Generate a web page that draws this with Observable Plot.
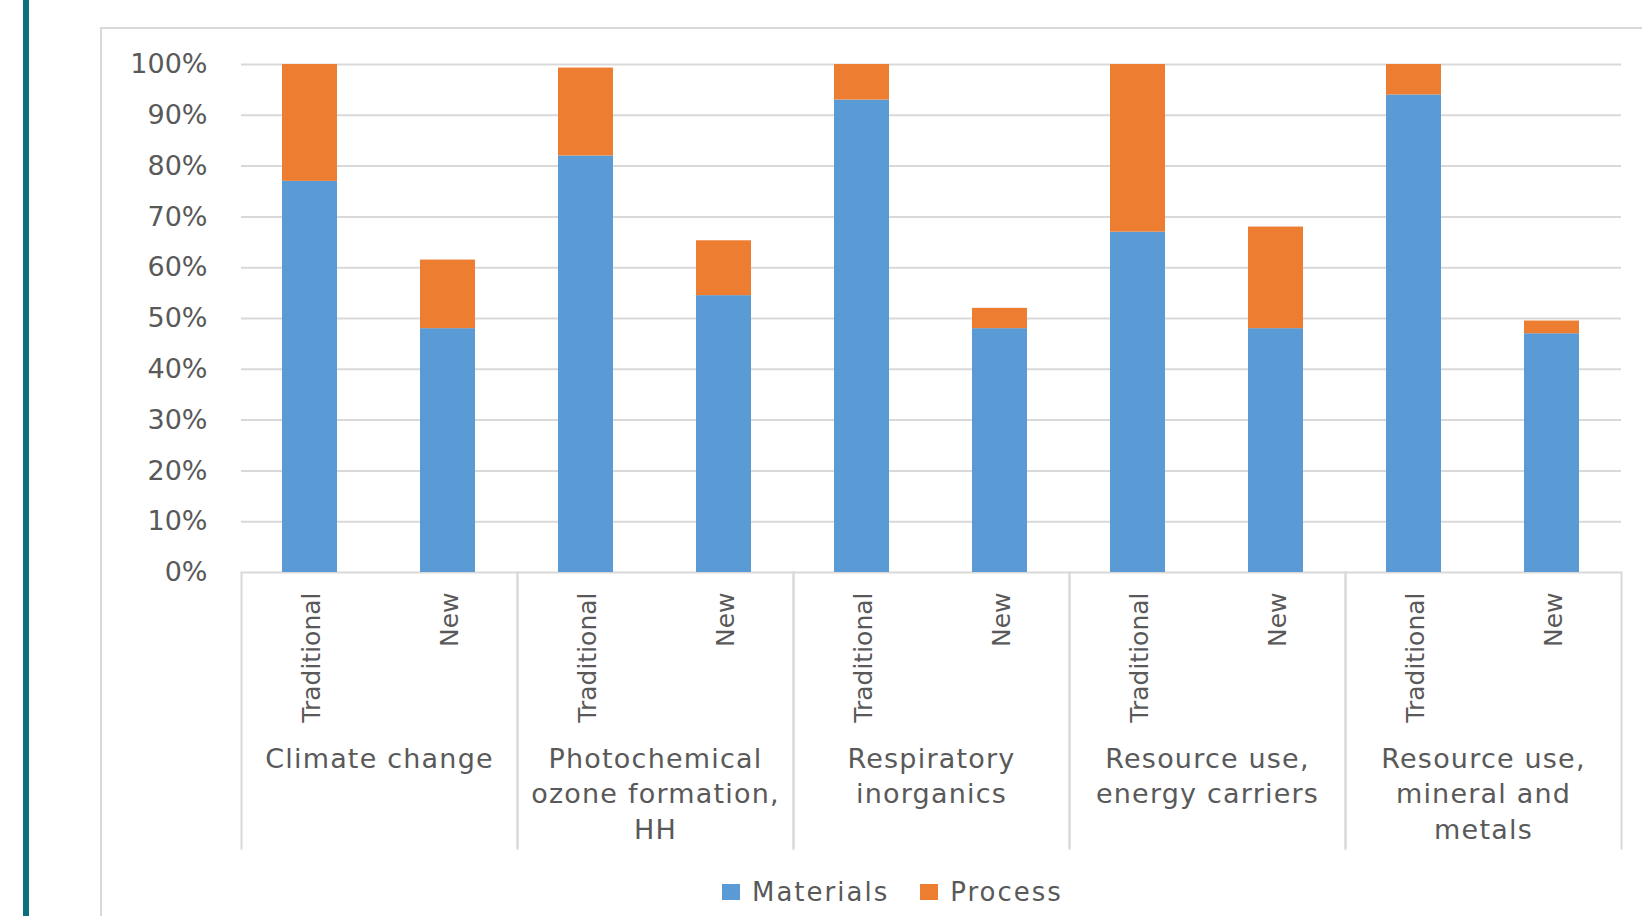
<!DOCTYPE html>
<html>
<head>
<meta charset="utf-8">
<script src="https://cdn.jsdelivr.net/npm/d3@7"></script>
<script src="https://cdn.jsdelivr.net/npm/@observablehq/plot@0.6"></script>
<style>
  body { margin: 0; background: #ffffff; }
  #page { position: relative; width: 1642px; height: 916px; overflow: hidden; font-family: "DejaVu Sans", sans-serif; }
  #accent { position: absolute; left: 23px; top: 0; width: 6px; height: 916px; background: #0d6f7b; }
  #panel { position: absolute; left: 100px; top: 27px; width: 1600px; height: 960px; border-left: 2px solid #d9d9d9; border-top: 2px solid #d9d9d9; }
  #chart { position: absolute; left: 0; top: 0; }
  #legend { position: absolute; left: 722px; top: 877px; display: flex; align-items: center; color: #595959; font-size: 26px; letter-spacing: 2px; line-height: 1.164; }
  #legend .item { display: flex; align-items: center; }
  #legend .item + .item { margin-left: 31px; }
  #legend .swatch { width: 18px; height: 16px; margin-right: 12px; }
</style>
</head>
<body>
<div id="page">
  <div id="accent"></div>
  <div id="panel"></div>
  <div id="chart"></div>
  <div id="legend"></div>
</div>
<script>
// Impact categories and their (multi-line) axis labels
const categories = [
  "Climate change",
  "Photochemical ozone formation, HH",
  "Respiratory inorganics",
  "Resource use, energy carriers",
  "Resource use, mineral and metals"
];
const categoryLabels = [
  "Climate change",
  "Photochemical\nozone formation,\nHH",
  "Respiratory\ninorganics",
  "Resource use,\nenergy carriers",
  "Resource use,\nmineral and\nmetals"
];
const variants = ["Traditional", "New"];

// Shares (%) in order: category × variant (Traditional, New)
const materials = [77, 48, 82, 54.5, 93, 48, 67, 48, 94, 47];
const process   = [23, 13.5, 17.3, 10.8, 7, 4, 33, 20, 6, 2.5];

const seriesNames = ["Materials", "Process"];
const seriesColors = ["#5B9BD5", "#ED7D31"];
const yTicks = [0, 10, 20, 30, 40, 50, 60, 70, 80, 90, 100];

// Long-format rows for the stacked bars
const rows = [];
const tickRows = [];
categories.forEach((category, k) => {
  variants.forEach((variant, j) => {
    const i = k * variants.length + j;
    rows.push({category, variant, series: seriesNames[0], value: materials[i]});
    rows.push({category, variant, series: seriesNames[1], value: process[i]});
    tickRows.push({category, variant});
  });
});

const textColor = "#595959";
const lineColor = "#d9d9d9";

const chart = Plot.plot({
  width: 1642,
  height: 860,
  marginLeft: 241,
  marginRight: 21,
  marginTop: 64,
  marginBottom: 288,
  style: {
    fontFamily: '"DejaVu Sans", sans-serif',
    fontSize: "27px",
    color: textColor,
    background: "transparent",
    overflow: "visible"
  },
  fx: {domain: categories, padding: 0, axis: null, label: null},
  x: {domain: variants, paddingInner: 0.6, paddingOuter: 0.3, axis: null, label: null},
  y: {domain: [0, 100], label: null},
  color: {domain: seriesNames, range: seriesColors},
  marks: [
    Plot.ruleY(yTicks, {stroke: lineColor, strokeWidth: 2}),
    Plot.barY(rows, {fx: "category", x: "variant", y: "value", fill: "series"}),
    Plot.axisY({ticks: yTicks, tickSize: 0, tickPadding: 34, tickFormat: d => d + "%", label: null, fontSize: 27, fill: textColor}),
    // rotated variant labels under each bar
    Plot.text(tickRows, {
      fx: "category", x: "variant", text: "variant",
      frameAnchor: "bottom", rotate: -90, textAnchor: "end", dx: 10, dy: 20,
      fontSize: 25, fill: textColor
    }),
    // category group labels
    Plot.text(categories, {
      fx: d => d, text: (d, i) => categoryLabels[i],
      frameAnchor: "bottom", lineAnchor: "top", dy: 170, lineHeight: 1.315,
      fontSize: 27, fill: textColor
    }),
    // dividers of the category axis
    Plot.frame({anchor: "left", stroke: lineColor, strokeWidth: 2, insetTop: 508, insetBottom: -276}),
    Plot.frame({anchor: "right", stroke: lineColor, strokeWidth: 2, insetTop: 508, insetBottom: -276})
  ]
});

// Slightly looser tracking for the category group labels
const flatLabels = new Set(categoryLabels.map(s => s.replace(/\n/g, "")));
d3.select(chart).selectAll("text")
  .filter(function () { return flatLabels.has(this.textContent); })
  .style("letter-spacing", "1.2px");

document.getElementById("chart").appendChild(chart);

// Legend
const legend = document.getElementById("legend");
seriesNames.forEach((name, i) => {
  const item = document.createElement("div");
  item.className = "item";
  const sw = document.createElement("span");
  sw.className = "swatch";
  sw.style.background = seriesColors[i];
  const label = document.createElement("span");
  label.textContent = name;
  item.appendChild(sw);
  item.appendChild(label);
  legend.appendChild(item);
});
</script>
</body>
</html>
